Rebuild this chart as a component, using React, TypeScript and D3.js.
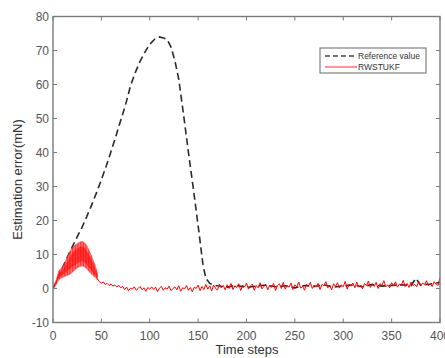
import React, { useEffect, useRef } from "react";
import * as d3 from "d3";

// reference value (dashed black)
const refT = [0, 5, 10, 15, 20, 25, 30, 35, 40, 45, 50, 55, 60, 65, 70, 75, 80, 85, 90, 95, 100, 105, 110, 115, 118, 122, 126, 130, 135, 140, 145, 150, 155, 158, 162, 166,
  170, 180, 190, 200, 210, 220, 230, 240, 250, 260, 270, 280, 290, 300, 310, 320, 330, 340, 350, 360, 370, 375, 380, 390, 400];
const refV = [0, 3, 6.2, 9.3, 12.3, 15.2, 18, 21.2, 24.6, 28.2, 32, 36, 40.3, 44.8, 49.5, 54, 59.5, 63.5, 66.8, 69.5, 71.8, 73.3, 74, 73.6, 73.2, 71, 67, 61.5, 51, 40, 29.5, 18.5, 7, 3, 1.5, 1,
  0.8, 0.4, 0.9, 0.3, 0.7, 1.0, 0.5, 0.8, 0.2, 0.9, 0.6, 1.1, 0.4, 0.8, 1.0, 0.5, 1.2, 0.7, 0.9, 1.1, 0.8, 3.0, 1.0, 1.3, 1.8];

// RWSTUKF: dense oscillation band at the start (low / high envelope, and its darker core)
const bandT = [0, 2, 4, 6, 8, 10, 12, 14, 16, 18, 20, 22, 24, 26, 28, 30, 32, 34, 36, 38, 40, 42, 44, 46];
const bandLo = [0, 0.5, 1.5, 2.5, 3, 3.2, 3.5, 3.8, 4, 4.3, 4.8, 5.3, 5.8, 6.2, 6.5, 6.6, 6.4, 6, 5.4, 4.8, 4.2, 3.6, 3.2, 2.5];
const bandHi = [0, 1.5, 3.2, 5.2, 5.8, 6.6, 7.5, 8.8, 10, 11.2, 12, 12.6, 13, 13.4, 13.7, 13.8, 13.6, 13, 12, 10.8, 9.5, 8, 6.5, 4.5];
const coreLo = [0, 0.8, 2, 3, 3.6, 4, 4.5, 5, 5.4, 5.8, 6.3, 6.8, 7.2, 7.6, 7.9, 8, 7.8, 7.3, 6.6, 5.9, 5.1, 4.3, 3.7, 2.8];
const coreHi = [0, 1.2, 2.7, 4.5, 5, 5.6, 6.4, 7.5, 8.5, 9.6, 10.4, 11, 11.5, 11.9, 12.2, 12.3, 12.1, 11.5, 10.6, 9.5, 8.3, 7, 5.6, 4];

// RWSTUKF after the transient, every 2 steps from 46 to 400
const tailV = [
  2.8, 2.0, 1.6, 1.9, 1.2, 1.5, 0.9, 1.3, 0.7, 1.0,
  0.5, 0.9, 0.2, 0.6, -0.3, 0.4, -0.6, 0.1, -0.2, 0.5,
  -0.5, 0.0, 0.6, -0.4, 0.2, -0.8, 0.3, -0.2, 0.5, -0.3,
  0.4, -0.9, 0.1, 0.6, -0.5, 0.2, -0.2, 0.7, -0.6, 0.0,
  0.5, -0.4, 0.8, -0.8, 0.2, -0.1, 0.9, -0.5, 0.3, -1.0,
  0.4, 0.0, 1.0, -0.6, 0.6, -0.3, 1.2, -0.2, 0.8, -0.7,
  1.0, 0.1, -0.5, 1.3, 0.2, 0.9, -0.4, 1.1, 0.0, 1.5,
  -0.3, 0.8, 0.3, 1.4, -0.6, 1.0, 0.4, 1.6, -0.2, 0.7,
  1.3, -0.5, 0.9, 0.2, 1.7, -0.1, 0.6, 1.2, -0.4, 1.0,
  0.3, 1.5, -0.6, 0.8, 1.4, 0.0, 1.8, -0.2, 0.9, 0.4,
  1.6, -0.3, 1.1, 0.5, 1.9, 0.1, 0.7, -0.5, 1.3, 0.6,
  1.8, 0.0, 1.0, 0.4, 1.5, -0.3, 1.2, 0.8, 2.0, 0.2,
  0.9, -0.4, 1.4, 0.6, 1.7, 0.1, 1.1, 0.5, 2.1, -0.2,
  1.3, 0.7, 1.6, 0.2, 1.9, 0.4, 1.0, -0.1, 1.5, 0.8,
  2.2, 0.3, 1.2, 0.6, 1.8, 0.0, 1.4, 0.9, 2.3, 0.5,
  1.1, 0.2, 1.7, 0.8, 2.0, 0.4, 1.3, 1.0, 2.4, 0.6,
  1.5, 0.3, 1.9, 0.9, 1.2, 0.5, 2.1, 0.7, 1.6, 1.1,
  2.3, 0.8, 1.4, 0.6, 2.0, 1.2, 0.9, 3.2,
];

const xTicks = [0, 50, 100, 150, 200, 250, 300, 350, 400];
const yTicks = [-10, 0, 10, 20, 30, 40, 50, 60, 70, 80];
const legendLabels = ["Reference value", "RWSTUKF"];

const W = 445;
const H = 358;
const FONT = "'Liberation Sans', Arial, sans-serif";

type Band = { t: number; lo: number; hi: number };

export default function App() {
  const svgRef = useRef<SVGSVGElement | null>(null);

  useEffect(() => {
    const svg = d3.select(svgRef.current);
    svg.selectAll("*").remove();

    const left = 53, right = 440, top = 16.5, bottom = 322.5;
    const x = d3.scaleLinear().domain([0, 400]).range([left, right]);
    const y = d3.scaleLinear().domain([-10, 80]).range([bottom, top]);

    svg.append("rect").attr("width", W).attr("height", H).attr("fill", "#fff");

    const defs = svg.append("defs");
    defs.append("clipPath").attr("id", "plot-clip")
      .append("rect").attr("x", left).attr("y", top).attr("width", right - left).attr("height", bottom - top);
    // fine vertical stripes to look like a dense oscillation
    const pat = defs.append("pattern").attr("id", "osc").attr("patternUnits", "userSpaceOnUse")
      .attr("width", 1.6).attr("height", 4);
    pat.append("rect").attr("width", 1.6).attr("height", 4).attr("fill", "#ff6a6a");
    pat.append("rect").attr("width", 0.8).attr("height", 4).attr("fill", "#ff1010");

    const plot = svg.append("g").attr("clip-path", "url(#plot-clip)");

    // reference line
    const refData = refT.map((t, i) => [t, refV[i]] as [number, number]);
    plot.append("path")
      .datum(refData)
      .attr("fill", "none")
      .attr("stroke", "#2a2a2a")
      .attr("stroke-width", 1.6)
      .attr("stroke-dasharray", "7,4")
      .attr("d", d3.line().x(d => x(d[0])).y(d => y(d[1])));

    const area = d3.area<Band>().x(d => x(d.t)).y0(d => y(d.lo)).y1(d => y(d.hi)).curve(d3.curveMonotoneX);

    // oscillation band
    const bandData = bandT.map((t, i) => ({ t, lo: bandLo[i], hi: bandHi[i] }));
    plot.append("path")
      .datum(bandData)
      .attr("fill", "url(#osc)")
      .attr("fill-opacity", 0.85)
      .attr("stroke", "#ff2020")
      .attr("stroke-width", 0.6)
      .attr("stroke-opacity", 0.7)
      .attr("d", area);
    const coreData = bandT.map((t, i) => ({ t, lo: coreLo[i], hi: coreHi[i] }));
    plot.append("path")
      .datum(coreData)
      .attr("fill", "#f00")
      .attr("fill-opacity", 0.55)
      .attr("d", area);

    // tail
    const tailT = d3.range(46, 401, 2);
    const tailData = tailT.map((t, i) => [t, tailV[i]] as [number, number]);
    plot.append("path")
      .datum(tailData)
      .attr("fill", "none")
      .attr("stroke", "#ff0000")
      .attr("stroke-width", 1)
      .attr("d", d3.line().x(d => x(d[0])).y(d => y(d[1])));

    // frame
    const axisColor = "#7a7a7a";
    svg.append("rect")
      .attr("x", left).attr("y", top)
      .attr("width", right - left).attr("height", bottom - top)
      .attr("fill", "none").attr("stroke", axisColor).attr("stroke-width", 1.4);

    const tl = 4;
    xTicks.forEach(t => {
      svg.append("line").attr("x1", x(t)).attr("x2", x(t)).attr("y1", bottom).attr("y2", bottom - tl)
        .attr("stroke", axisColor);
      svg.append("line").attr("x1", x(t)).attr("x2", x(t)).attr("y1", top).attr("y2", top + tl)
        .attr("stroke", axisColor);
      svg.append("text").attr("x", x(t)).attr("y", bottom + 17)
        .attr("text-anchor", "middle").style("font-family", FONT).style("font-size", "12px")
        .attr("fill", "#555").text(t);
    });
    yTicks.forEach(t => {
      svg.append("line").attr("x1", left).attr("x2", left + tl).attr("y1", y(t)).attr("y2", y(t))
        .attr("stroke", axisColor);
      svg.append("line").attr("x1", right).attr("x2", right - tl).attr("y1", y(t)).attr("y2", y(t))
        .attr("stroke", axisColor);
      svg.append("text").attr("x", left - 4).attr("y", y(t) + 4)
        .attr("text-anchor", "end").style("font-family", FONT).style("font-size", "12px")
        .attr("fill", "#555").text(t);
    });

    svg.append("text").attr("x", 247).attr("y", 354)
      .attr("text-anchor", "middle").style("font-family", FONT).style("font-size", "13px")
      .attr("fill", "#333").text("Time steps");
    svg.append("text").attr("transform", `translate(22,${(top + bottom) / 2 + 10}) rotate(-90)`)
      .attr("text-anchor", "middle").style("font-family", FONT).style("font-size", "13px")
      .attr("fill", "#333").text("Estimation error(mN)");

    // legend
    const lg = svg.append("g").attr("transform", "translate(320,48)");
    lg.append("rect").attr("width", 106).attr("height", 25).attr("fill", "#fff")
      .attr("stroke", "#666").attr("stroke-width", 1);
    legendLabels.forEach((label, i) => {
      const ly = 8 + i * 11;
      lg.append("line").attr("x1", 5).attr("x2", 37).attr("y1", ly).attr("y2", ly)
        .attr("stroke", i === 0 ? "#444" : "#ff3030")
        .attr("stroke-width", i === 0 ? 1.3 : 1)
        .attr("stroke-dasharray", i === 0 ? "5,3" : null);
      lg.append("text").attr("x", 38).attr("y", ly + 3)
        .style("font-family", FONT).style("font-size", "8.5px").attr("fill", "#333").text(label);
    });
  }, []);

  return (
    <div style={{ position: "fixed", left: 0, top: 0 }}>
      <svg ref={svgRef} width={W} height={H}></svg>
    </div>
  );
}
